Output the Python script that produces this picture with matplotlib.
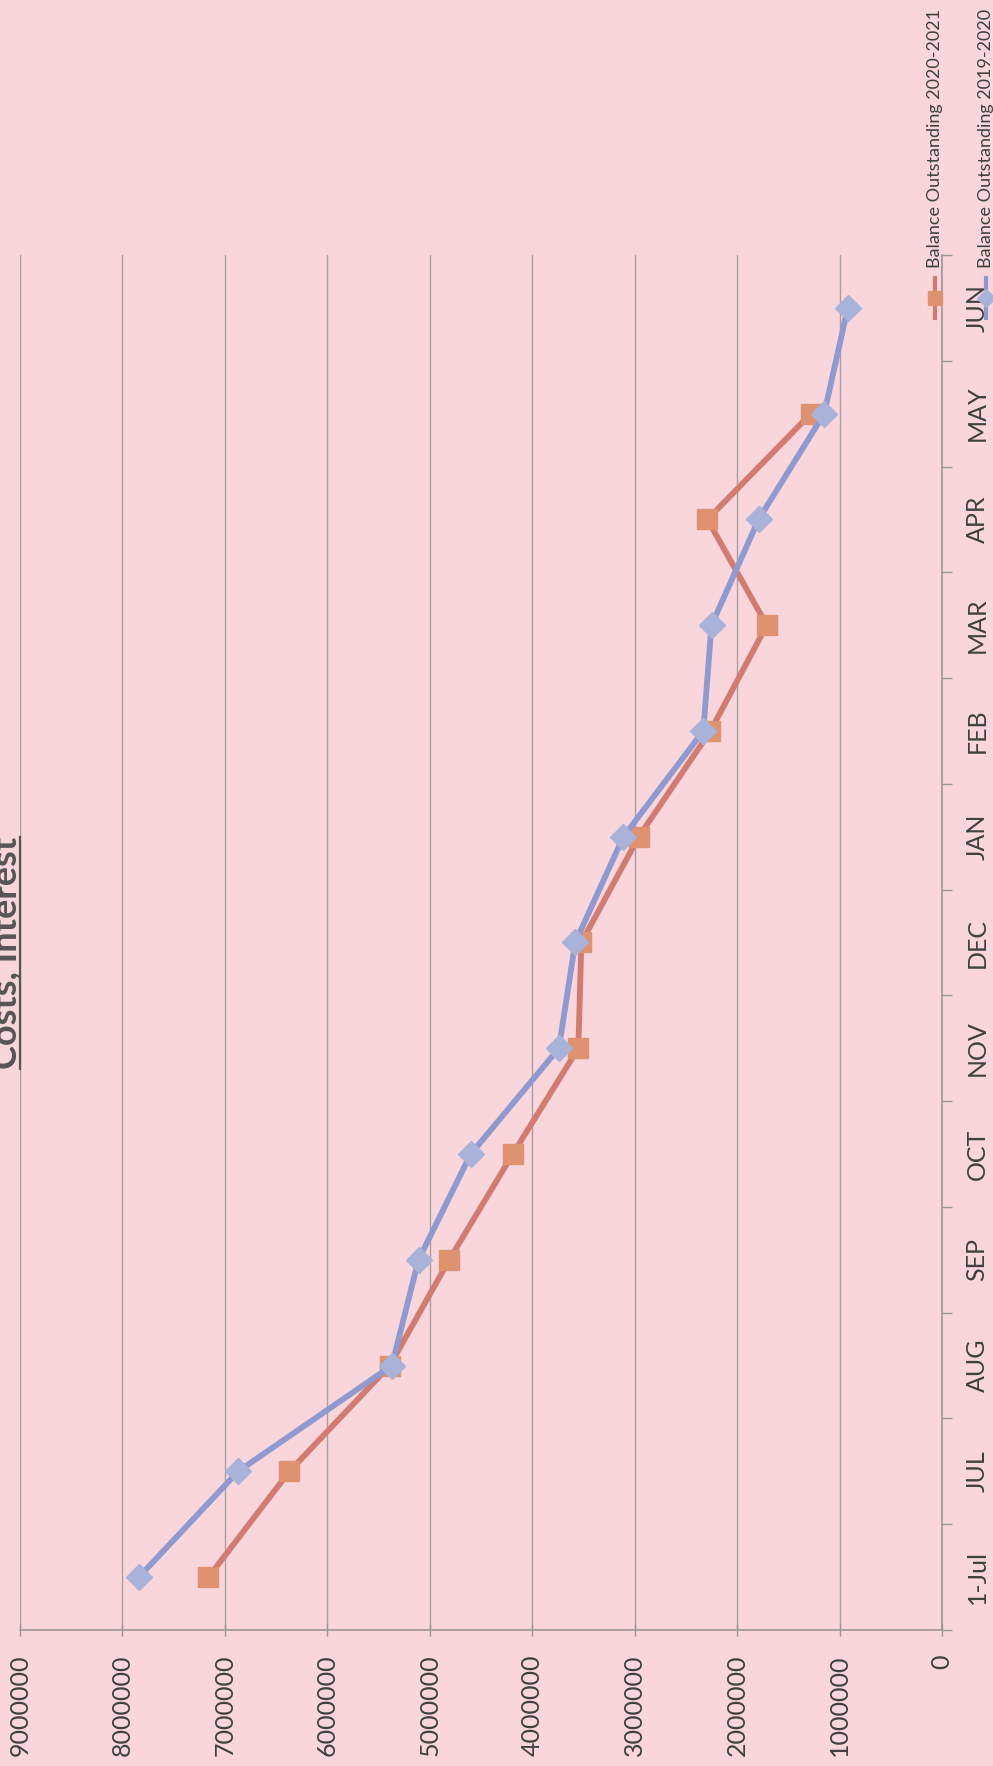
import matplotlib
matplotlib.use('Agg')
import matplotlib.pyplot as plt
from matplotlib.lines import Line2D
import numpy as np

# ---------------- data ----------------
months = ['1-Jul', 'JUL', 'AUG', 'SEP', 'OCT', 'NOV', 'DEC',
          'JAN', 'FEB', 'MAR', 'APR', 'MAY', 'JUN']
bal_2020_2021 = [7160000, 6370000, 5390000, 4810000, 4190000, 3550000, 3520000,
                 2960000, 2260000, 1710000, 2290000, 1280000, np.nan]
bal_2019_2020 = [7840000, 6870000, 5370000, 5110000, 4600000, 3740000, 3580000,
                 3110000, 2330000, 2250000, 1790000, 1150000, 920000]
value_ticks = [0, 1000000, 2000000, 3000000, 4000000, 5000000,
               6000000, 7000000, 8000000, 9000000]
series_names = ['Balance Outstanding 2020-2021', 'Balance Outstanding 2019-2020']
title_text = 'Costs, Interest'

# ---------------- style ----------------
BG = '#f8d6dc'
TXT = '#404040'
GRID = '#a99ea2'
SPINE = '#9c9495'
RED_LINE = '#d27b70'
RED_MK = '#df9270'
BLUE_LINE = '#8e9ad0'
BLUE_MK = '#a9b2d8'
FONT = ['Lato', 'DejaVu Sans']

plt.rcParams['font.family'] = FONT

W, H = 993, 1766
fig = plt.figure(figsize=(W / 100, H / 100), dpi=100, facecolor=BG)
ax = fig.add_axes([20 / W, 136 / H, 922 / W, 1375 / H])
ax.set_facecolor(BG)

pos = np.arange(len(months))
ax.plot(bal_2020_2021, pos, color=RED_LINE, lw=4.2, marker='s', ms=14,
        mfc=RED_MK, mec=RED_MK, zorder=3, solid_joinstyle='round')
ax.plot(bal_2019_2020, pos, color=BLUE_LINE, lw=4.2, marker='D', ms=13,
        mfc=BLUE_MK, mec=BLUE_MK, zorder=4, solid_joinstyle='round')

ax.set_xlim(9000000, 0)
ax.set_ylim(-0.5, len(months) - 0.5)

# value axis (bottom)
ax.set_xticks(value_ticks)
ax.set_xticklabels([str(v) for v in value_ticks], rotation=90,
                   fontsize=18, color=TXT)
ax.tick_params(axis='x', direction='inout', length=9, width=1,
               color=SPINE, pad=13)
ax.grid(axis='x', color=GRID, lw=1.0)
ax.grid(axis='y', visible=False)

# category axis (right)
ax.yaxis.tick_right()
ax.set_yticks(pos)
ax.set_yticklabels(months, rotation=90, fontsize=18, color=TXT, va='center')
ax.set_yticks(np.arange(-0.5, len(months), 1.0), minor=True)
ax.tick_params(axis='y', which='major', length=0, pad=17)
ax.tick_params(axis='y', which='minor', length=7, width=1,
               direction='out', color=SPINE)

for s in ['top', 'left']:
    ax.spines[s].set_visible(False)
for s in ['bottom', 'right']:
    ax.spines[s].set_color(SPINE)
    ax.spines[s].set_linewidth(1.2)

# ---------------- title (rotated, underlined) ----------------
title = fig.text(17 / W, 1 - 837 / H, title_text, rotation=90,
                 rotation_mode='anchor', ha='right', va='baseline',
                 fontsize=26, fontweight='bold', color='#555555')
fig.canvas.draw()
bb = title.get_window_extent(fig.canvas.get_renderer())
fig.add_artist(Line2D([19.5 / W, 19.5 / W], [bb.y0 / H, bb.y1 / H],
                      transform=fig.transFigure, color='#555555', lw=1.6))

# ---------------- legend (rotated) ----------------
leg_specs = [(935, RED_LINE, RED_MK, 's', 10, series_names[0]),
             (986, BLUE_LINE, BLUE_MK, 'D', 9, series_names[1])]
for xpx, lc, mc, mk, ms, name in leg_specs:
    fig.add_artist(Line2D([xpx / W, xpx / W], [1 - 318 / H, 1 - 278 / H],
                          transform=fig.transFigure, color=lc, lw=3))
    fig.add_artist(Line2D([xpx / W], [1 - 298 / H], transform=fig.transFigure,
                          marker=mk, ms=ms, mfc=mc, mec=mc, lw=0))
    fig.text(xpx / W, 1 - 268 / H, name, rotation=90, ha='center',
             va='bottom', fontsize=13, color=TXT)

fig.savefig('out.png', dpi=100, facecolor=BG)
